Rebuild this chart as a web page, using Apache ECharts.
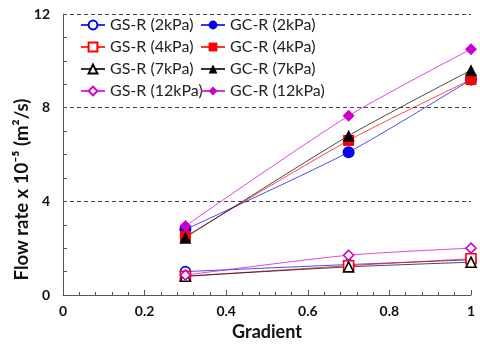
<!DOCTYPE html>
<html>
<head>
<meta charset="utf-8">
<script src="https://cdn.jsdelivr.net/npm/echarts@6/dist/echarts.min.js"></script>
<style>
  html, body { margin: 0; padding: 0; background: #fff; }
  #chart { width: 480px; height: 345px; }
</style>
</head>
<body>
<div id="chart"></div>
<script>
const gradient = [0.3, 0.7, 1];

const gsR2 = [1.0, 1.3, 1.5];
const gcR2 = [2.8, 6.1, 9.2];
const gsR4 = [0.8, 1.25, 1.55];
const gcR4 = [2.5, 6.6, 9.2];
const gsR7 = [0.8, 1.2, 1.4];
const gcR7 = [2.45, 6.8, 9.6];
const gsR12 = [0.85, 1.7, 2.0];
const gcR12 = [2.95, 7.65, 10.5];

const font = 'Lato, "Open Sans", sans-serif';

function pts(ys) {
  return gradient.map((x, i) => [x, ys[i]]);
}

// hollow = open marker, else filled
function mk(name, ys, color, symbol, hollow, size) {
  return {
    name: name,
    type: 'line',
    data: pts(ys),
    smooth: 0.25,
    symbol: symbol,
    symbolSize: size,
    lineStyle: { color: color, width: 0.9, opacity: 0.8 },
    itemStyle: {
      color: hollow ? '#fff' : color,
      borderColor: color,
      borderWidth: hollow ? 1.6 : 0
    },
    emphasis: { disabled: true }
  };
}

const chart = echarts.init(document.getElementById('chart'));

const legendText = { fontFamily: font, fontSize: 16, color: '#222', lineHeight: 18 };

chart.setOption({
  animation: false,
  grid: { left: 63, right: 9, top: 14, bottom: 50, outerBoundsMode: 'none' },
  legend: [
    {
      left: 80, top: 16, orient: 'vertical',
      itemWidth: 24, itemHeight: 11, itemGap: 4, padding: 0,
      textStyle: legendText,
      data: ['GS-R (2kPa)', 'GS-R (4kPa)', 'GS-R (7kPa)', 'GS-R (12kPa)']
    },
    {
      left: 200, top: 16, orient: 'vertical',
      itemWidth: 24, itemHeight: 11, itemGap: 4, padding: 0,
      textStyle: legendText,
      data: ['GC-R (2kPa)', 'GC-R (4kPa)', 'GC-R (7kPa)', 'GC-R (12kPa)']
    }
  ],
  xAxis: {
    type: 'value', min: 0, max: 1, interval: 0.2,
    name: 'Gradient', nameLocation: 'middle', nameGap: 28, nameMoveOverlap: false,
    nameTextStyle: { fontFamily: font, fontSize: 18, fontWeight: 'bold', color: '#111' },
    axisLine: { lineStyle: { color: '#555', width: 1 } },
    axisTick: { inside: true, length: 5, lineStyle: { color: '#555' } },
    minorTick: { show: true, splitNumber: 5, length: 3, lineStyle: { color: '#555' } },
    axisLabel: { fontFamily: font, fontSize: 14, fontWeight: 'bold', color: '#111', margin: 9 },
    splitLine: { show: false }
  },
  yAxis: {
    type: 'value', min: 0, max: 12, interval: 4,
    name: 'Flow rate x 10⁻⁵ (m²/s)', nameLocation: 'middle', nameGap: 31, nameMoveOverlap: false,
    nameTextStyle: { fontFamily: font, fontSize: 18.5, fontWeight: 'bold', color: '#111', padding: [0, 0, 0, -70] },
    axisLine: { show: true, lineStyle: { color: '#555', width: 1 } },
    axisTick: { show: true, inside: true, length: 4, lineStyle: { color: '#555' } },
    minorTick: { show: true, splitNumber: 4, length: 4, lineStyle: { color: '#555' } },
    axisLabel: { fontFamily: font, fontSize: 14, fontWeight: 'bold', color: '#111', margin: 13 },
    splitLine: { show: true, lineStyle: { color: '#444', type: [4, 3], width: 1 } }
  },
  series: [
    mk('GS-R (2kPa)', gsR2, '#0000ee', 'circle', true, 10),
    mk('GC-R (2kPa)', gcR2, '#0000ee', 'circle', false, 12),
    mk('GS-R (4kPa)', gsR4, '#ff0000', 'rect', true, 10),
    mk('GC-R (4kPa)', gcR4, '#ff0000', 'rect', false, 11),
    mk('GS-R (7kPa)', gsR7, '#000000', 'triangle', true, 10),
    mk('GC-R (7kPa)', gcR7, '#000000', 'triangle', false, 12),
    mk('GS-R (12kPa)', gsR12, '#cc00cc', 'diamond', true, 10),
    mk('GC-R (12kPa)', gcR12, '#cc00cc', 'diamond', false, 12)
  ]
});
</script>
</body>
</html>
